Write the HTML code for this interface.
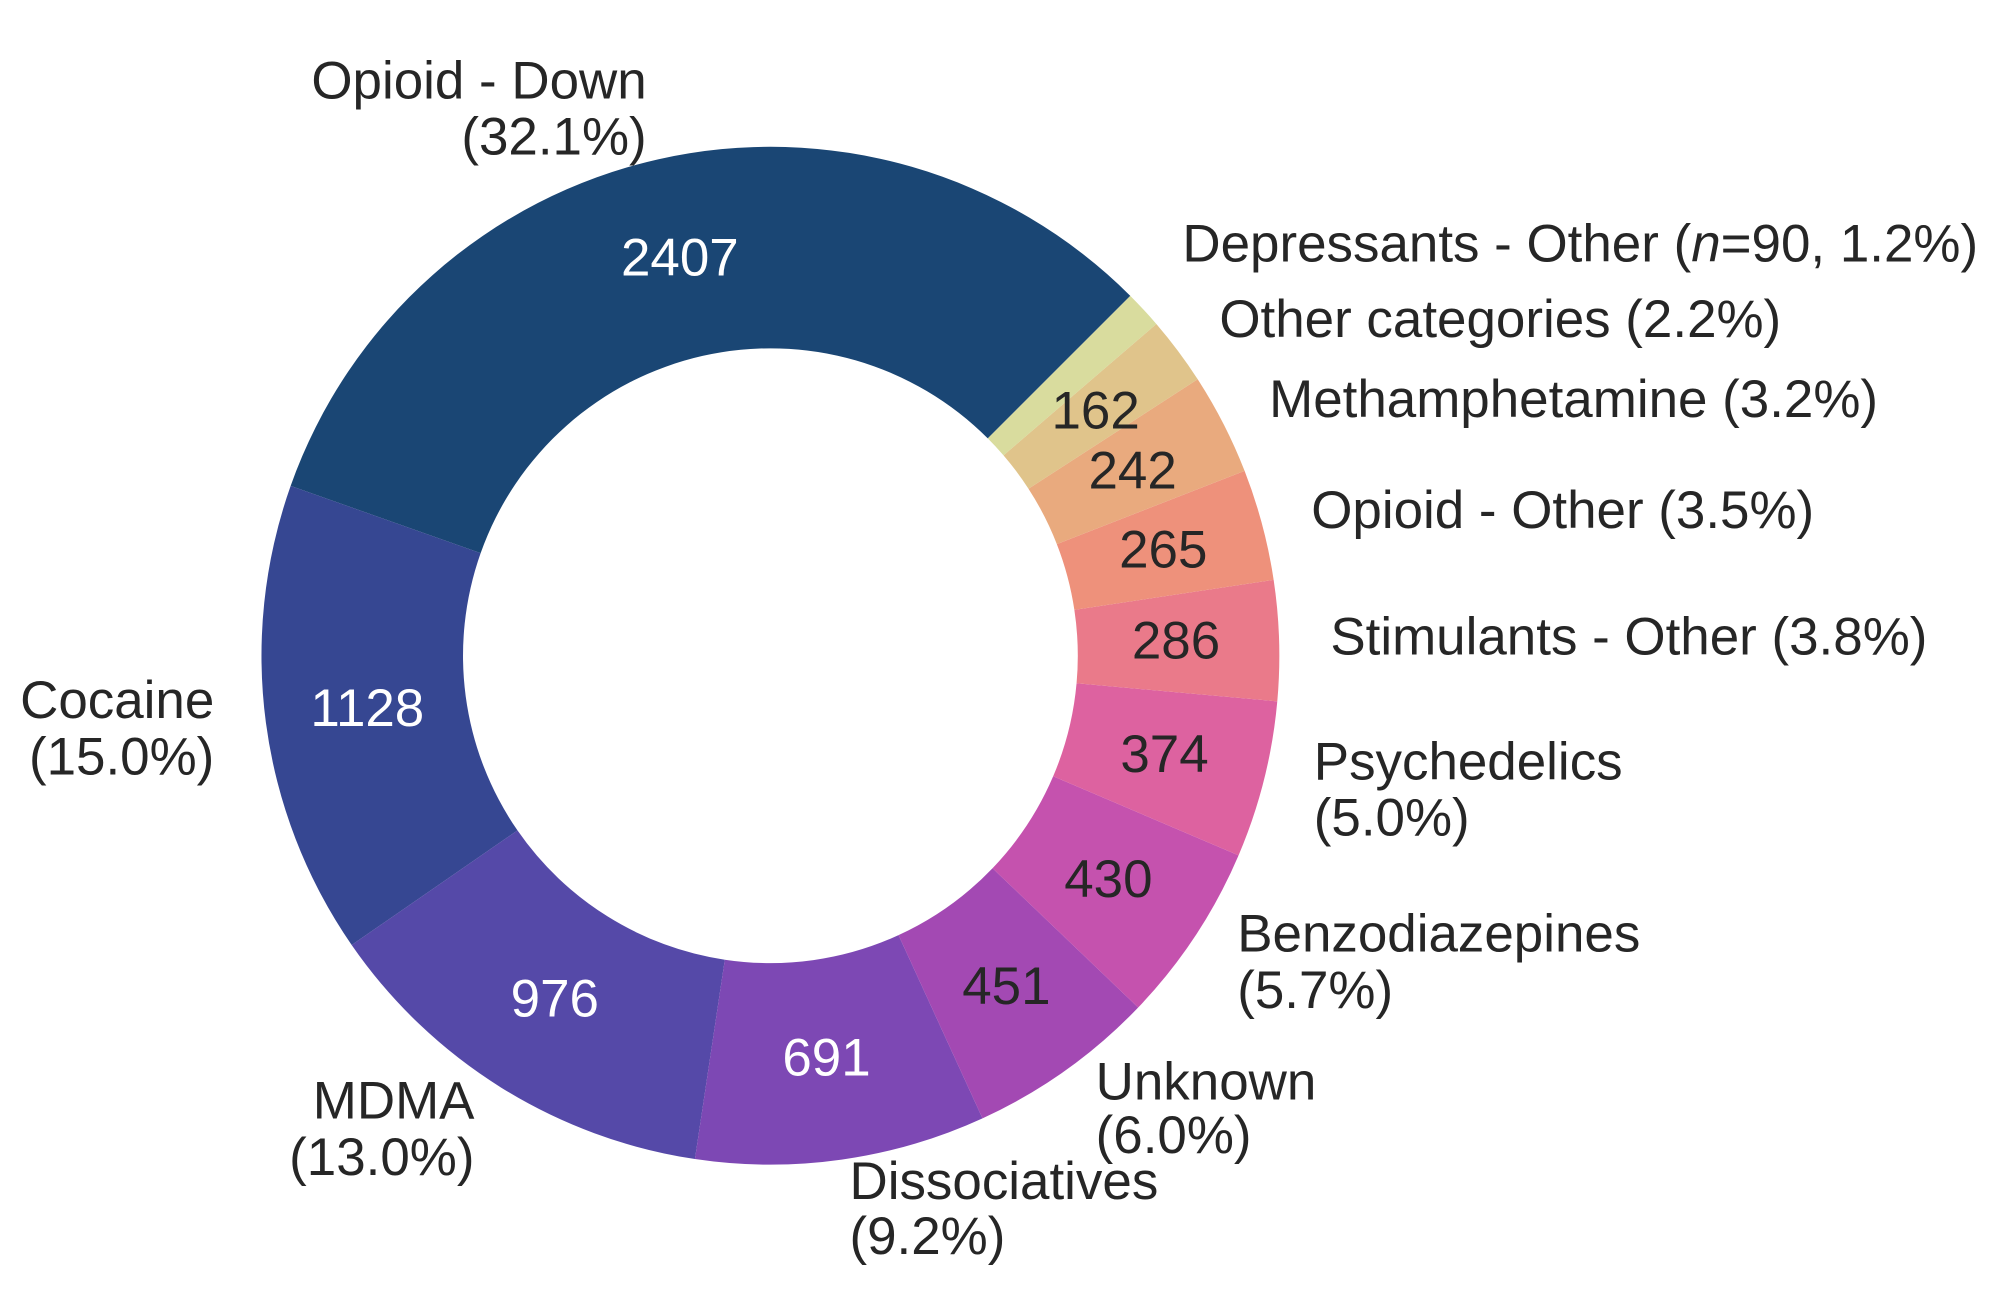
<!DOCTYPE html>
<html><head><meta charset="utf-8"><style>
html,body{margin:0;padding:0;background:#fff;}
svg{display:block;}
text{font-family:"Liberation Sans",sans-serif;font-size:41.5px;fill:#262626;}
.w{fill:#fff;}
</style></head><body>
<svg id="s" width="2000" height="1314" viewBox="0 0 1568 1030" xmlns="http://www.w3.org/2000/svg">
<g id="wedges"></g>
<g text-anchor="middle">
<text x="533" y="216" class="w">2407</text>
<text x="288" y="569" class="w">1128</text>
<text x="435" y="797" class="w">976</text>
<text x="648" y="843" class="w">691</text>
<text x="789" y="787">451</text>
<text x="869" y="703">430</text>
<text x="913" y="605">374</text>
<text x="922" y="516">286</text>
<text x="912" y="445">265</text>
<text x="888" y="383">242</text>
<text x="859" y="336">162</text>
</g>
<g text-anchor="end">
<text x="507" y="77">Opioid - Down</text>
<text x="507" y="121">(32.1%)</text>
<text x="168" y="563">Cocaine</text>
<text x="168" y="607">(15.0%)</text>
<text x="372" y="877">MDMA</text>
<text x="372" y="921">(13.0%)</text>
</g>
<g>
<text x="666" y="940">Dissociatives</text>
<text x="666" y="983">(9.2%)</text>
<text x="859" y="862">Unknown</text>
<text x="859" y="904">(6.0%)</text>
<text x="970" y="746">Benzodiazepines</text>
<text x="970" y="790">(5.7%)</text>
<text x="1030" y="611">Psychedelics</text>
<text x="1030" y="655">(5.0%)</text>
<text x="1043" y="513">Stimulants - Other (3.8%)</text>
<text x="1028" y="414">Opioid - Other (3.5%)</text>
<text x="995" y="327">Methamphetamine (3.2%)</text>
<text x="956" y="264">Other categories (2.2%)</text>
<text x="927" y="205">Depressants - Other (<tspan font-style="italic">n</tspan>=90, 1.2%)</text>
</g>
</svg>
<script>
var vals=[2407,1128,976,691,451,430,374,286,265,242,162,90];
var cols=["#1a4674","#364792","#5549a8","#7d48b4","#a349b3","#c552ae","#dd62a0","#ea7a8a","#ee917b","#e9aa7e","#e0c48b","#d9dc9e"];
var tot=vals.reduce(function(a,b){return a+b},0);
var cx=604,cy=514,R=399,r=241,a=45,g=document.getElementById("wedges"),h="";
function p(rad,deg){var t=deg*Math.PI/180;return (cx+rad*Math.cos(t)).toFixed(2)+","+(cy-rad*Math.sin(t)).toFixed(2);}
for(var i=0;i<vals.length;i++){var d=vals[i]/tot*360,b=a+d,l=d>180?1:0;
h+='<path fill="'+cols[i]+'" d="M'+p(R,a)+' A'+R+','+R+' 0 '+l+' 0 '+p(R,b)+' L'+p(r,b)+' A'+r+','+r+' 0 '+l+' 1 '+p(r,a)+' Z"/>';a=b;}
g.innerHTML=h;
</script>
</body></html>
